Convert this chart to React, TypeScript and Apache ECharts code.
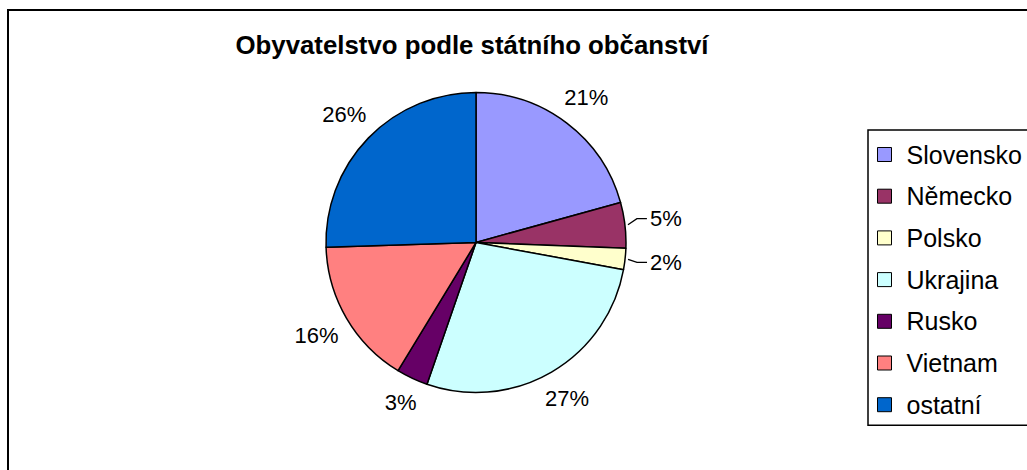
import React, { useEffect, useRef } from "react";
import * as echarts from "echarts";

const TITLE = "Obyvatelstvo podle státního občanství";
const categories = ["Slovensko", "Německo", "Polsko", "Ukrajina", "Rusko", "Vietnam", "ostatní"];
const values = [20.7, 4.9, 2.3, 27.4, 3.4, 15.8, 25.5];
const colors = ["#9999FF", "#993366", "#FFFFCC", "#CCFFFF", "#660066", "#FF8080", "#0066CC"];
const withLeader = ["Německo", "Polsko"];

const FONT = "'Liberation Sans', Arial, sans-serif";
const CX = 476;
const CY = 242.5;
const R = 150;

export default function App() {
  const ref = useRef<HTMLDivElement>(null);
  useEffect(() => {
    if (!ref.current) return;
    const chart = echarts.init(ref.current, null, { renderer: "svg" });
    const total = values.reduce((a, b) => a + b, 0);
    const option: any = {
      animation: false,
      backgroundColor: "#ffffff",
      graphic: [
        {
          type: "rect",
          shape: { x: 8, y: 10, width: 1100, height: 520 },
          style: { fill: "none", stroke: "#000", lineWidth: 2 },
          silent: true,
        },
        {
          type: "text",
          x: CX - 4,
          y: 45,
          style: {
            text: TITLE,
            fill: "#000",
            font: `bold 25.8px ${FONT}`,
            textAlign: "center",
            textVerticalAlign: "middle",
          },
        },
      ],
      legend: {
        orient: "vertical",
        left: 868,
        top: 130,
        borderColor: "#000",
        borderWidth: 1.5,
        padding: [12, 40, 8, 9],
        itemWidth: 14,
        itemHeight: 14,
        itemGap: 16.7,
        icon: "rect",
        itemStyle: { borderColor: "#000", borderWidth: 1 },
        textStyle: { fontSize: 25, lineHeight: 25, fontFamily: FONT, color: "#000", padding: [0, 0, 0, 10] },
        data: categories,
      },
      series: [
        {
          type: "pie",
          center: [CX, CY],
          radius: R,
          startAngle: 90,
          clockwise: true,
          avoidLabelOverlap: false,
          itemStyle: { borderColor: "#000", borderWidth: 1.5 },
          label: {
            show: true,
            position: "outside",
            fontSize: 22,
            fontFamily: FONT,
            color: "#000",
            formatter: (p: any) => `${Math.round(p.percent)}%`,
          },
          labelLine: { show: false, lineStyle: { color: "#000", width: 1.3 } },
          emphasis: { disabled: true },
          labelLayout: (params: any) => {
            const i = params.dataIndex;
            let before = 0;
            for (let j = 0; j < i; j++) before += values[j];
            const midFrac = (before + values[i] / 2) / total;
            const ang = Math.PI / 2 - midFrac * 2 * Math.PI;
            const dx = Math.cos(ang);
            const dy = -Math.sin(ang);
            const sgn = dx >= 0 ? 1 : -1;
            if (withLeader.includes(categories[i])) {
              const p1 = [CX + dx * (R + 3), CY + dy * (R + 3)];
              const p2 = [CX + dx * (R + 12), CY + dy * (R + 12) + (dy < 0 ? -5 : 2)];
              const p3 = [p2[0] + 10 * sgn, p2[1]];
              return {
                x: p3[0] + 3 * sgn,
                y: p3[1],
                align: sgn > 0 ? "left" : "right",
                verticalAlign: "middle",
                labelLinePoints: [p1, p2, p3],
              };
            }
            const w = params.labelRect.width;
            const h = params.labelRect.height;
            const rl = R + 10 + (Math.abs(dx) * w) / 2 + (Math.abs(dy) * h) / 2;
            return { x: CX + dx * rl, y: CY + dy * rl, align: "center", verticalAlign: "middle" };
          },
          data: categories.map((name, i) => ({
            name,
            value: values[i],
            itemStyle: { color: colors[i] },
            labelLine: { show: withLeader.includes(name) },
          })),
        },
      ],
    };
    chart.setOption(option);
    return () => chart.dispose();
  }, []);
  return (
    <div
      ref={ref}
      style={{ position: "absolute", left: 0, top: 0, width: 1027, height: 470, background: "#fff" }}
    />
  );
}
